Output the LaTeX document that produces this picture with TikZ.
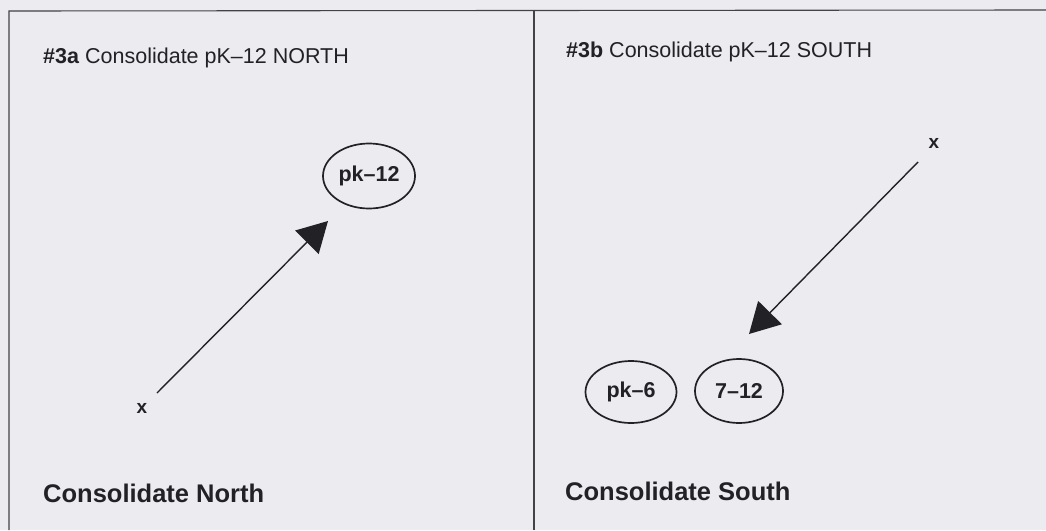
\documentclass[tikz,border=0pt]{standalone}
\usepackage{fontspec}
\setmainfont{Liberation Sans}
\usetikzlibrary{arrows.meta,shapes.geometric}
\definecolor{paper}{RGB}{236,236,240}
\definecolor{ink}{RGB}{34,34,38}
\begin{document}
\begin{tikzpicture}[x=1pt,y=-1pt,
  frame/.style={draw=ink!85,line width=1.1pt},
  title/.style={anchor=base west,inner sep=0pt,text=ink,font=\fontsize{21.5}{24}\selectfont},
  caption/.style={anchor=base west,inner sep=0pt,text=ink,font=\fontsize{25.5}{28}\selectfont\bfseries},
  grade/.style={draw=ink,line width=1.7pt,ellipse,inner sep=0pt,text=ink,
                font=\fontsize{21.5}{24}\selectfont\bfseries},
  spot/.style={inner sep=0pt,text=ink,font=\fontsize{19}{20}\selectfont\bfseries},
  move/.style={draw=ink,line width=1.4pt,-{Triangle[length=30pt,width=33pt]}}]
  % paper and bounding box
  \fill[paper] (0,0) rectangle (1046,530);
  \useasboundingbox (0,0) rectangle (1046,530);

  % panel frames
  \coordinate (tl) at (9,11);
  \coordinate (tr) at (1046,10);
  \coordinate (bl) at (9,530);
  \coordinate (mt) at (534,10);
  \coordinate (mb) at (534,530);
  \draw[frame] (bl) -- (tl) -- (tr);
  \draw[frame] (mt) -- (mb);

  % titles
  \node[title] (tn) at (43,63) {\textbf{\#3a} Consolidate pK–12 NORTH};
  \node[title] (ts) at (566,57) {\textbf{\#3b} Consolidate pK–12 SOUTH};

  % north panel
  \node[grade,minimum width=92pt,minimum height=65pt] (pk12) at (369,176) {pk–12};
  \node[spot] (xn) at (142,408) {x};
  \coordinate (nt) at (157,393);
  \coordinate (nh) at (328,221);
  \draw[move] (nt) -- (nh);
  \node[caption] (cn) at (43,502) {Consolidate North};

  % south panel
  \node[spot] (xs) at (934,143) {x};
  \coordinate (st) at (918,162);
  \coordinate (sh) at (749,334);
  \draw[move] (st) -- (sh);
  \node[grade,minimum width=91pt,minimum height=62pt] (pk6) at (631,392) {pk–6};
  \node[grade,minimum width=88pt,minimum height=64pt] (s712) at (739,391) {7–12};
  \node[caption] (cs) at (565,500) {Consolidate South};
\end{tikzpicture}
\end{document}
